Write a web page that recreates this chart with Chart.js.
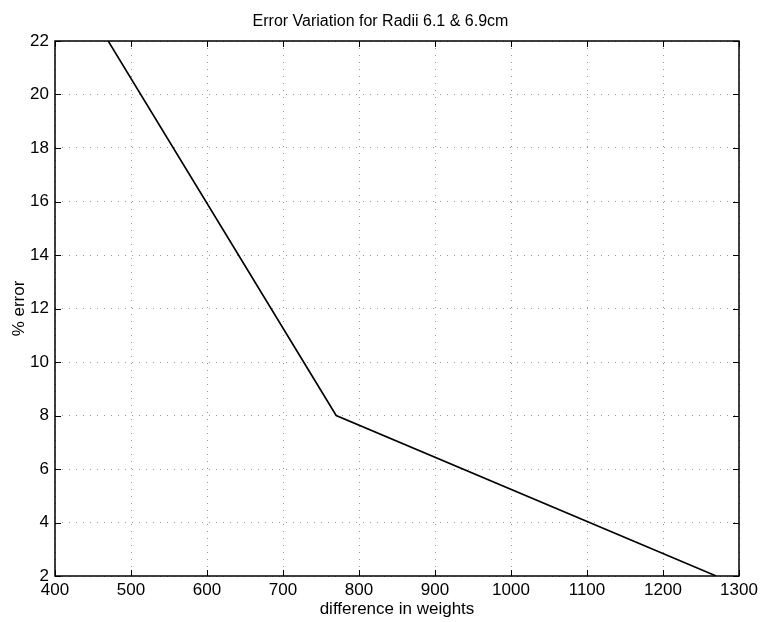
<!DOCTYPE html>
<html>
<head>
<meta charset="utf-8">
<script src="https://cdn.jsdelivr.net/npm/chart.js@4/dist/chart.umd.min.js"></script>
<style>
  html, body { margin: 0; padding: 0; background: #fff; }
  #wrap { width: 761px; height: 622px; }
</style>
</head>
<body>
<div id="wrap"><canvas id="errorChart"></canvas></div>
<script>
const weightDiff = [470, 770, 1270];
const percentError = [22, 8, 2];
const xTicks = [400, 500, 600, 700, 800, 900, 1000, 1100, 1200, 1300];
const yTicks = [2, 4, 6, 8, 10, 12, 14, 16, 18, 20, 22];

const FONT = '"Liberation Sans", Arial, Helvetica, sans-serif';

// box outline plus inward tick marks on all four sides
const boxTicks = {
  id: 'boxTicks',
  afterDraw(chart) {
    const { ctx, chartArea: a, scales } = chart;
    const len = 6;
    ctx.save();
    ctx.strokeStyle = '#000';
    ctx.lineWidth = 1;
    ctx.beginPath();
    xTicks.forEach(v => {
      const px = Math.round(scales.x.getPixelForValue(v)) + 0.5;
      ctx.moveTo(px, a.bottom); ctx.lineTo(px, a.bottom - len);
      ctx.moveTo(px, a.top); ctx.lineTo(px, a.top + len);
    });
    yTicks.forEach(v => {
      const py = Math.round(scales.y.getPixelForValue(v)) + 0.5;
      ctx.moveTo(a.left, py); ctx.lineTo(a.left + len, py);
      ctx.moveTo(a.right, py); ctx.lineTo(a.right - len, py);
    });
    ctx.stroke();
    ctx.lineWidth = 1.5;
    ctx.strokeRect(a.left, a.top, a.right - a.left, a.bottom - a.top);
    ctx.restore();
  }
};

// dotted grid, as in the old plotting style
const gridOpts = {
  color: 'rgba(0,0,0,0.4)',
  lineWidth: 1,
  drawTicks: false
};

const ctx = document.getElementById('errorChart').getContext('2d');
new Chart(ctx, {
  type: 'line',
  data: {
    datasets: [{
      data: weightDiff.map((w, i) => ({ x: w, y: percentError[i] })),
      borderColor: '#000',
      borderWidth: 1.6,
      pointRadius: 0,
      fill: false,
      tension: 0
    }]
  },
  options: {
    responsive: true,
    maintainAspectRatio: false,
    animation: false,
    layout: { padding: 0 },
    plugins: {
      legend: { display: false },
      tooltip: { enabled: false },
      title: {
        display: true,
        text: 'Error Variation for Radii 6.1 & 6.9cm',
        color: '#000',
        font: { family: FONT, size: 16, weight: 'normal', lineHeight: 1 },
        padding: { top: 14, bottom: 11 }
      }
    },
    scales: {
      x: {
        type: 'linear',
        min: 400,
        max: 1300,
        afterBuildTicks: s => { s.ticks = xTicks.map(v => ({ value: v })); },
        afterFit: s => { s.height = 46; s.paddingRight = 22; },
        border: { display: false, dash: [1, 6] },
        grid: gridOpts,
        ticks: {
          color: '#000',
          padding: 4,
          maxRotation: 0,
          font: { family: FONT, size: 17 },
          callback: v => String(v)
        },
        title: {
          display: true,
          text: 'difference in weights',
          color: '#000',
          font: { family: FONT, size: 17 },
          padding: { top: 0, bottom: 2 }
        }
      },
      y: {
        type: 'linear',
        min: 2,
        max: 22,
        afterBuildTicks: s => { s.ticks = yTicks.map(v => ({ value: v })); },
        afterFit: s => { s.width = 55; },
        border: { display: false, dash: [1, 6] },
        grid: gridOpts,
        ticks: {
          color: '#000',
          padding: 6,
          font: { family: FONT, size: 17 },
          callback: v => String(v)
        },
        title: {
          display: true,
          text: '% error',
          color: '#000',
          font: { family: FONT, size: 17 },
          padding: { top: 9, bottom: 0 }
        }
      }
    }
  },
  plugins: [boxTicks]
});
</script>
</body>
</html>
